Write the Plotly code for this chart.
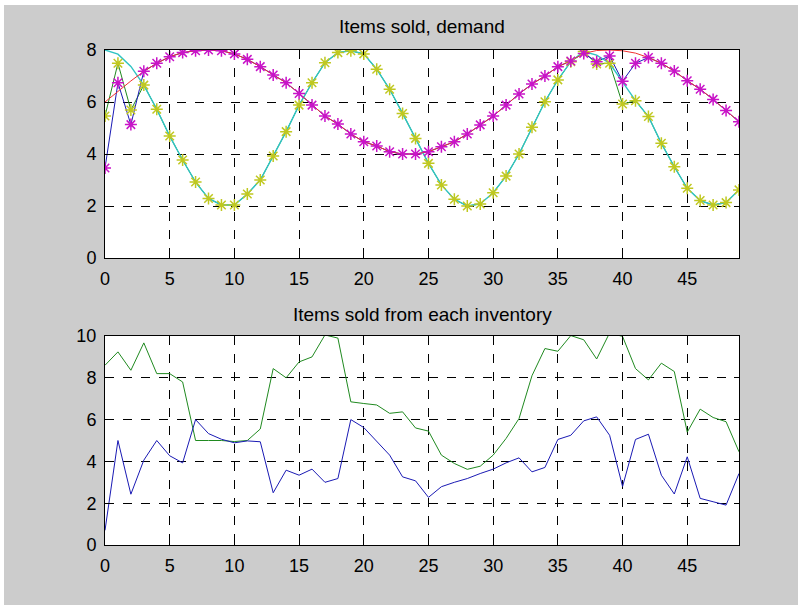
import plotly.graph_objects as go
from plotly.subplots import make_subplots

t = list(range(50))

demand_1 = [8.0, 7.84, 7.37, 6.65, 5.72, 4.69, 3.77, 2.92, 2.29, 2.04,
            2.04, 2.46, 3.0, 3.92, 4.86, 5.88, 6.74, 7.51, 7.9, 7.97,
            7.85, 7.26, 6.49, 5.56, 4.6, 3.64, 2.81, 2.26, 2.0, 2.08,
            2.51, 3.15, 4.0, 5.03, 6.01, 6.85, 7.55, 7.94, 7.8, 7.49,
            6.75, 6.05, 5.44, 4.41, 3.51, 2.68, 2.21, 2.04, 2.13, 2.62]
sold_1 = [5.46, 7.49, 5.69, 6.65, 5.72, 4.69, 3.77, 2.92, 2.29, 2.04,
          2.04, 2.46, 3.0, 3.92, 4.86, 5.88, 6.74, 7.51, 7.9, 7.97,
          7.85, 7.26, 6.49, 5.56, 4.6, 3.64, 2.81, 2.26, 2.0, 2.08,
          2.51, 3.15, 4.0, 5.03, 6.01, 6.85, 7.55, 7.94, 7.46, 7.49,
          5.92, 6.05, 5.44, 4.41, 3.51, 2.68, 2.21, 2.04, 2.13, 2.62]
demand_2 = [6.0, 6.42, 6.81, 7.18, 7.49, 7.74, 7.9, 7.97, 8.0, 7.97,
            7.85, 7.64, 7.36, 7.04, 6.74, 6.33, 5.88, 5.46, 5.15, 4.77,
            4.47, 4.31, 4.09, 4.0, 4.0, 4.09, 4.28, 4.47, 4.77, 5.12,
            5.46, 5.88, 6.31, 6.69, 7.0, 7.36, 7.58, 7.87, 7.98, 8.0,
            7.97, 7.88, 7.71, 7.49, 7.19, 6.82, 6.49, 6.1, 5.67, 5.24]
sold_2 = [3.46, 6.74, 5.13, 7.18, 7.49, 7.74, 7.9, 7.97, 8.0, 7.97,
          7.85, 7.64, 7.36, 7.04, 6.74, 6.33, 5.88, 5.46, 5.15, 4.77,
          4.47, 4.31, 4.09, 4.0, 4.0, 4.09, 4.28, 4.47, 4.77, 5.12,
          5.46, 5.88, 6.31, 6.69, 7.0, 7.36, 7.58, 7.87, 7.55, 7.77,
          6.8, 7.49, 7.71, 7.49, 7.19, 6.82, 6.49, 6.1, 5.67, 5.24]

inv_1 = [8.6, 9.24, 8.36, 9.67, 8.2, 8.2, 7.8, 5.0, 5.0, 5.0,
         4.95, 5.0, 5.55, 8.44, 8.0, 8.76, 9.0, 10.05, 9.9, 6.85,
         6.77, 6.7, 6.3, 6.37, 5.6, 5.45, 4.3, 3.9, 3.62, 3.77,
         4.3, 5.1, 6.05, 8.1, 9.4, 9.27, 10.02, 9.82, 8.9, 10.15,
         9.98, 8.44, 7.9, 8.7, 8.3, 5.4, 6.5, 6.1, 5.9, 4.46]
inv_2 = [0.7, 5.0, 2.43, 4.06, 5.0, 4.27, 3.93, 6.0, 5.33, 5.06,
         4.89, 4.98, 4.94, 2.5, 3.58, 3.34, 3.63, 3.0, 3.18, 6.0,
         5.62, 4.94, 4.3, 3.26, 3.07, 2.28, 2.79, 3.0, 3.18, 3.42,
         3.63, 3.93, 4.17, 3.5, 3.71, 5.05, 5.25, 5.94, 6.13, 5.25,
         2.8, 5.05, 5.3, 3.34, 2.44, 4.22, 2.23, 2.07, 1.91, 3.42]

x_ticks = [0, 5, 10, 15, 20, 25, 30, 35, 40, 45]
y_ticks_top = [0, 2, 4, 6, 8]
y_ticks_bottom = [0, 2, 4, 6, 8, 10]
title_top = "Items sold, demand"
title_bottom = "Items sold from each inventory"

GREEN = "#208a20"
BLUE = "#1a1ab4"
CYAN = "#30c4c4"
RED = "#f03030"
YELLOW = "#c0c820"
MAGENTA = "#c814c8"

fig = make_subplots(rows=2, cols=1, vertical_spacing=0.0)

def line(x, y, color, row, width=1):
    fig.add_trace(go.Scatter(x=x, y=y, mode="lines",
                             line=dict(color=color, width=width),
                             showlegend=False, hoverinfo="skip"), row=row, col=1)

def stars(x, y, color, row):
    fig.add_trace(go.Scatter(x=x, y=y, mode="markers",
                             marker=dict(symbol="asterisk-open", size=10, color=color,
                                         line=dict(color=color, width=1.5)),
                             showlegend=False, hoverinfo="skip"), row=row, col=1)

line(t, sold_1, GREEN, 1)
line(t, sold_2, BLUE, 1)
line(t, demand_1, CYAN, 1, 1.4)
line(t, demand_2, RED, 1)
stars(t, sold_1, YELLOW, 1)
stars(t, sold_2, MAGENTA, 1)

line(t, inv_1, GREEN, 2)
line(t, inv_2, BLUE, 2)

axis_common = dict(showline=True, linecolor="black", linewidth=1, mirror="ticks",
                   ticks="inside", ticklen=5, tickcolor="black",
                   showgrid=True, gridcolor="black", griddash="dash", gridwidth=1,
                   zeroline=False, tickfont=dict(family="Liberation Sans", size=18, color="black"))

fig.update_xaxes(range=[0, 49], tickvals=x_ticks, ticklabelstandoff=4, **axis_common)
fig.update_yaxes(range=[0, 8], tickvals=y_ticks_top, row=1, col=1, ticklabelstandoff=4, **axis_common)
fig.update_yaxes(range=[0, 10], tickvals=y_ticks_bottom, row=2, col=1, ticklabelstandoff=4, **axis_common)

H_TOT = 605
MT, MB, ML, MR = 50, 60, 105, 59
ph = H_TOT - MT - MB
pw = 798 - ML - MR
def py(pix):
    return (H_TOT - MB - pix) / ph
def px(pix):
    return (pix - ML) / pw

fig.update_layout(yaxis=dict(domain=[py(258), 1.0]), yaxis2=dict(domain=[0.0, py(336)]))

fig.add_annotation(text=title_top, xref="paper", yref="paper", x=0.5, y=py(27),
                   showarrow=False, xanchor="center", yanchor="middle",
                   font=dict(family="Liberation Sans", size=19, color="black"))
fig.add_annotation(text=title_bottom, xref="paper", yref="paper", x=0.5, y=py(314),
                   showarrow=False, xanchor="center", yanchor="middle",
                   font=dict(family="Liberation Sans", size=19, color="black"))

fig.add_shape(type="rect", xref="paper", yref="paper", x0=px(0), x1=px(4), y0=py(605), y1=py(0),
              fillcolor="white", line=dict(width=0), layer="above")
fig.add_shape(type="rect", xref="paper", yref="paper", x0=px(0), x1=px(798), y0=py(5), y1=py(0),
              fillcolor="white", line=dict(width=0), layer="above")

fig.update_layout(width=798, height=605, margin=dict(l=ML, r=MR, t=MT, b=MB),
                  paper_bgcolor="#cccccc", plot_bgcolor="white", showlegend=False,
                  font=dict(family="Liberation Sans", size=18, color="black"))

fig.write_html("out.html", config={"displayModeBar": False},
               post_script="document.body.style.margin='0px';")
